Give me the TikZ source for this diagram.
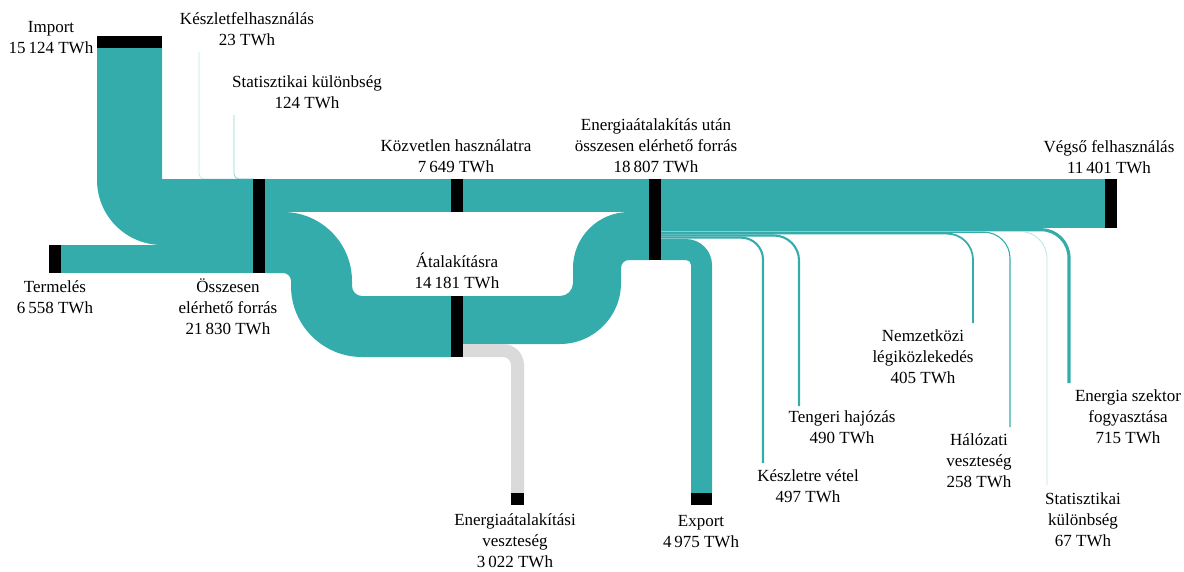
\documentclass[tikz,border=0pt]{standalone}
\usepackage{fontspec}
\setmainfont{Liberation Serif}
\definecolor{flow}{RGB}{53,172,172}
\definecolor{lossgray}{RGB}{218,218,218}
\begin{document}
\begin{tikzpicture}[x=1pt,y=-1pt,
  bar/.style={fill=black, draw=none, inner sep=0pt, outer sep=0pt, rectangle},
  band/.style={fill=flow, draw=none},
  lossband/.style={fill=lossgray, draw=none},
  thinflow/.style={draw=flow, line cap=butt},
  lbl/.style={align=center, anchor=base, inner sep=0pt, font=\fontsize{17}{20.8}\selectfont}]
\useasboundingbox (0,0) rectangle (1184,571);

% small inflows joining the total supply from above
\draw[draw=flow!30, line width=0.7pt] (199,52) -- (199,174) arc[start angle=180, end angle=90, radius=5] -- (253,179);
\draw[draw=flow!55, line width=0.8pt] (234,115) -- (234,174) arc[start angle=180, end angle=90, radius=5] -- (253,179);

% import
\fill[band] (97,47) -- (162,47) -- (162,179) -- (253,179) -- (253,245) -- (162,245)
  arc[start angle=90, end angle=180, radius=65] -- cycle;
% production
\fill[band] (61,245) rectangle (253,273);
% direct use
\fill[band] (265,179) rectangle (451,212);
\fill[band] (463,179) rectangle (649,212);
% final consumption
\fill[band] (661,179) rectangle (1105,228);
% to transformation
\fill[band] (265,212) -- (283,212) arc[start angle=270, end angle=360, radius=69]
  -- (352,286) arc[start angle=180, end angle=90, radius=10]
  -- (451,296) -- (451,357) -- (362,357) arc[start angle=90, end angle=180, radius=71]
  -- (291,281) arc[start angle=0, end angle=-90, radius=8] -- (265,273) -- cycle;
% transformation output
\fill[band] (463,296) -- (560,296) arc[start angle=90, end angle=0, radius=13]
  -- (573,268) arc[start angle=180, end angle=270, radius=56]
  -- (649,212) -- (649,260) -- (629,260) arc[start angle=270, end angle=180, radius=8]
  -- (621,283) arc[start angle=0, end angle=90, radius=61] -- (463,344) -- cycle;
% transformation loss
\fill[lossband] (463,344) -- (503,344) arc[start angle=270, end angle=360, radius=21]
  -- (524,493) -- (511,493) -- (511,365) arc[start angle=0, end angle=-90, radius=8]
  -- (463,357) -- cycle;
% export
\fill[band] (661,239) -- (686,239) arc[start angle=270, end angle=360, radius=26]
  -- (712,493) -- (691,493) -- (691,265) arc[start angle=0, end angle=-90, radius=5]
  -- (661,260) -- cycle;

% thin outflows
\draw[thinflow, line width=3.1pt] (661,229.7) -- (1041,229.7) arc[start angle=270, end angle=360, radius=28] -- (1069,383);
\draw[thinflow, draw=flow!35, line width=0.8pt] (661,231.4) -- (1020,231.4) arc[start angle=270, end angle=360, radius=27] -- (1047,485);
\draw[thinflow, line width=1.1pt] (661,232.2) -- (984,232.2) arc[start angle=270, end angle=360, radius=26] -- (1010,427);
\draw[thinflow, line width=1.75pt] (661,233.6) -- (947,233.6) arc[start angle=270, end angle=360, radius=26] -- (973,323);
\draw[thinflow, line width=2.1pt] (661,235.5) -- (774,235.5) arc[start angle=270, end angle=360, radius=25] -- (799,406);
\draw[thinflow, line width=2.1pt] (661,237.6) -- (741,237.6) arc[start angle=270, end angle=360, radius=22] -- (763,463);

% bars
\node[bar, minimum width=65pt, minimum height=12pt] (imp) at (129.5,42) {};
\node[bar, minimum width=12pt, minimum height=28pt] (term) at (55,259) {};
\node[bar, minimum width=12pt, minimum height=94pt] (ossz) at (259,226) {};
\node[bar, minimum width=12pt, minimum height=33pt] (kozv) at (457,195.5) {};
\node[bar, minimum width=12pt, minimum height=61pt] (atal) at (457,326.5) {};
\node[bar, minimum width=12pt, minimum height=81pt] (utan) at (655,219.5) {};
\node[bar, minimum width=12pt, minimum height=49pt] (vegso) at (1111,203.5) {};
\node[bar, minimum width=13pt, minimum height=12pt] (loss) at (517.5,499) {};
\node[bar, minimum width=21pt, minimum height=12pt] (exp) at (701.5,499) {};

% labels (placed by the baseline of their last line)
\node[lbl] (l-imp) at (51,53) {Import\\15\,124 TWh};
\node[lbl] (l-keszf) at (247,45) {Készletfelhasználás\\23 TWh};
\node[lbl] (l-stat1) at (307,108) {Statisztikai különbség\\124 TWh};
\node[lbl] (l-kozv) at (456,172) {Közvetlen használatra\\7\,649 TWh};
\node[lbl] (l-utan) at (656,172) {Energiaátalakítás után\\összesen elérhető forrás\\18\,807 TWh};
\node[lbl] (l-vegso) at (1109,173) {Végső felhasználás\\11\,401 TWh};
\node[lbl] (l-term) at (55,313) {Termelés\\6\,558 TWh};
\node[lbl] (l-ossz) at (228,334) {Összesen\\elérhető forrás\\21\,830 TWh};
\node[lbl] (l-atal) at (457,288) {Átalakításra\\14\,181 TWh};
\node[lbl] (l-loss) at (515,567) {Energiaátalakítási\\veszteség\\3\,022 TWh};
\node[lbl] (l-exp) at (701,547) {Export\\4\,975 TWh};
\node[lbl] (l-keszv) at (808,502) {Készletre vétel\\497 TWh};
\node[lbl] (l-teng) at (842,443) {Tengeri hajózás\\490 TWh};
\node[lbl] (l-legi) at (923,383) {Nemzetközi\\légiközlekedés\\405 TWh};
\node[lbl] (l-hal) at (979,487) {Hálózati\\veszteség\\258 TWh};
\node[lbl] (l-stat2) at (1083,546) {Statisztikai\\különbség\\67 TWh};
\node[lbl] (l-ensz) at (1128,443) {Energia szektor\\fogyasztása\\715 TWh};
\end{tikzpicture}
\end{document}
